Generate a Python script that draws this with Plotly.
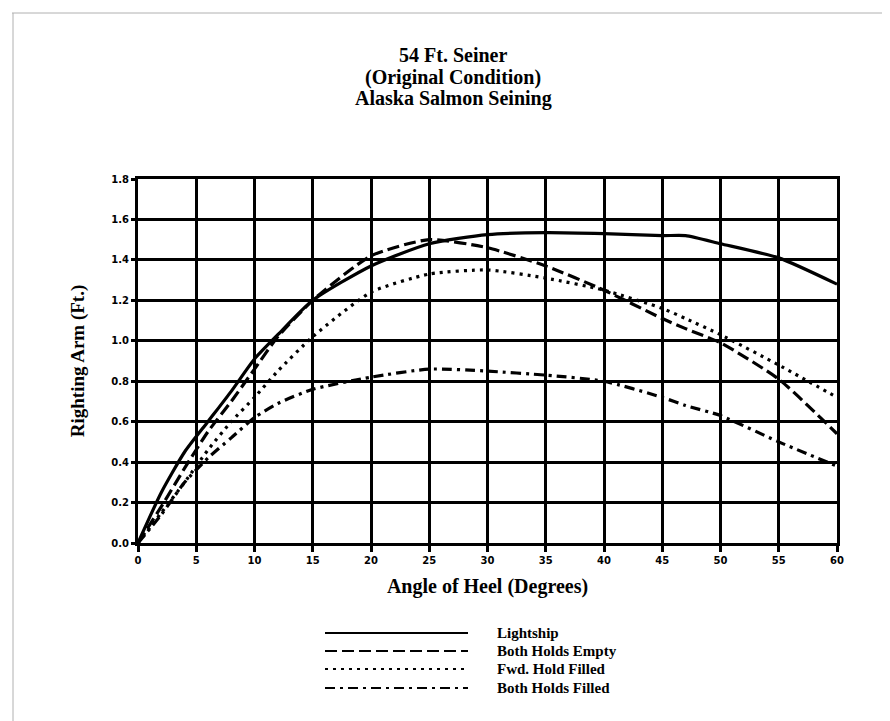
import plotly.graph_objects as go

# Righting arm curves, 54 ft seiner
angle = [0, 2, 4, 6, 8, 10, 12, 15, 20, 25, 30, 35, 40, 45, 47, 50, 55, 60]
lightship = [0, 0.25, 0.45, 0.60, 0.75, 0.91, 1.03, 1.20, 1.37, 1.48, 1.525, 1.535, 1.53, 1.52, 1.52, 1.48, 1.41, 1.28]
holds_empty = [0, 0.18, 0.37, 0.55, 0.70, 0.86, 1.02, 1.20, 1.42, 1.50, 1.46, 1.37, 1.25, 1.11, 1.06, 0.99, 0.81, 0.54]
fwd_filled = [0, 0.15, 0.30, 0.46, 0.60, 0.72, 0.85, 1.02, 1.24, 1.33, 1.35, 1.31, 1.25, 1.16, 1.11, 1.03, 0.88, 0.72]
both_filled = [0, 0.14, 0.30, 0.42, 0.52, 0.62, 0.69, 0.76, 0.82, 0.86, 0.85, 0.83, 0.80, 0.72, 0.68, 0.63, 0.50, 0.38]

names = ["Lightship", "Both Holds Empty", "Fwd. Hold Filled", "Both Holds Filled"]
series = [lightship, holds_empty, fwd_filled, both_filled]
dashes = ["solid", "12px,5px", "3px,5px", "10px,5px,3px,5px"]

x_ticks = list(range(0, 61, 5))
y_ticks = [0.0, 0.2, 0.4, 0.6, 0.8, 1.0, 1.2, 1.4, 1.6, 1.8]

W, H = 890, 721
L, R, T, B = 130, 61, 171, 186
pw, ph = W - L - R, H - T - B

def px(x):
    return (x - L) / pw

def py(y):
    return (H - B - y) / ph

serif = "Liberation Serif"

fig = go.Figure()
for name, vals, dash in zip(names, series, dashes):
    fig.add_trace(go.Scatter(x=angle, y=vals, name=name, mode="lines",
                             line=dict(color="black", width=3.2, dash=dash, shape="spline", smoothing=0.6),
                             showlegend=False))

# legend drawn by hand: long line samples with text to the right
leg_y = [625, 643, 661, 680]
for name, dash, ly in zip(names, dashes, leg_y):
    fig.add_shape(type="line", xref="paper", yref="paper",
                  x0=px(317), x1=px(460), y0=py(ly), y1=py(ly),
                  line=dict(color="black", width=2, dash=dash))
    fig.add_annotation(xref="paper", yref="paper", x=px(487), y=py(ly),
                       text="<b>" + name + "</b>", showarrow=False,
                       xanchor="left", yanchor="middle",
                       font=dict(family=serif, size=15, color="black"))

# title lines
titles = ["54 Ft. Seiner", "(Original Condition)", "Alaska Salmon Seining"]
for i, t in enumerate(titles):
    fig.add_annotation(xref="paper", yref="paper", x=px(445), y=py(47 + i * 22),
                       text="<b>" + t + "</b>", showarrow=False,
                       xanchor="center", yanchor="middle",
                       font=dict(family=serif, size=20, color="black"))

# page frame
fig.add_shape(type="line", xref="paper", yref="paper", x0=px(4), x1=px(886), y0=py(5), y1=py(5),
              line=dict(color="#b0b0b0", width=1))
fig.add_shape(type="line", xref="paper", yref="paper", x0=px(5), x1=px(5), y0=py(5), y1=py(717),
              line=dict(color="#b0b0b0", width=1))

tick_font = dict(family="DejaVu Sans", size=10, color="black")
fig.update_layout(
    width=W, height=H,
    margin=dict(l=L, r=R, t=T, b=B, pad=0),
    plot_bgcolor="white", paper_bgcolor="white",
    xaxis=dict(range=[0, 60], tickvals=x_ticks, ticktext=["<b>%d</b>" % v for v in x_ticks],
               showgrid=True, gridcolor="black", gridwidth=2.5,
               showline=True, linecolor="black", linewidth=3, mirror=True,
               ticks="outside", ticklen=6, tickwidth=2.5, tickcolor="black",
               tickfont=tick_font, zeroline=False,
               title=dict(text="<b>Angle of Heel (Degrees)</b>", standoff=14,
                          font=dict(family=serif, size=20, color="black"))),
    yaxis=dict(range=[0, 1.8], tickvals=y_ticks, ticktext=["<b>%.1f</b>" % v for v in y_ticks],
               showgrid=True, gridcolor="black", gridwidth=2.5,
               showline=True, linecolor="black", linewidth=3, mirror=True,
               ticks="outside", ticklen=4, tickwidth=2.5, tickcolor="black",
               tickfont=tick_font, zeroline=False,
               title=dict(text="<b>Righting Arm (Ft.)</b>", standoff=22,
                          font=dict(family=serif, size=19, color="black"))),
)

fig.write_html("out.html")
